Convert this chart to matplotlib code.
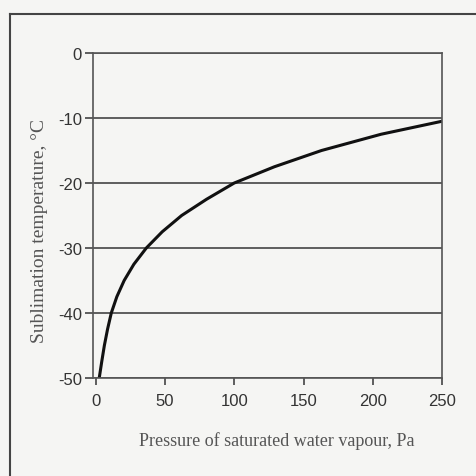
import matplotlib
matplotlib.use("Agg")
import matplotlib.pyplot as plt
from matplotlib.lines import Line2D

# Data (saturated vapour pressure over ice)
temperature_c = [-50, -47.5, -45, -42.5, -40, -37.5, -35, -32.5, -30, -27.5,
                 -25, -22.5, -20, -17.5, -15, -12.5, -10.5]
pressure_pa = [2.5, 4.3, 6.2, 8.5, 11.2, 15.2, 20.5, 27.5, 36.5, 48.0,
               62.0, 80.0, 100.0, 129.0, 163.0, 206.0, 250.0]
x_ticks = [0, 50, 100, 150, 200, 250]
y_ticks = [0, -10, -20, -30, -40, -50]

bg = "#f5f5f3"
fig = plt.figure(figsize=(4.76, 4.77), dpi=100, facecolor=bg)
ax = fig.add_axes([93/476, 1-379/477, (442-93)/476, (379-54)/477])
ax.set_facecolor(bg)

ax.plot(pressure_pa, temperature_c, color="#111111", lw=2.2,
        solid_capstyle="round", solid_joinstyle="round")

ax.set_xlim(-2, 250)
ax.set_ylim(-50, 0)
ax.set_xticks(x_ticks)
ax.set_yticks(y_ticks)
ax.set_xticklabels([str(v) for v in x_ticks], fontsize=12, color="#333333",
                   family="Liberation Sans")
ax.set_yticklabels([str(v) for v in y_ticks], fontsize=12, color="#333333",
                   family="Liberation Sans")
ax.tick_params(axis="x", direction="out", length=5, width=1.2, color="#444444", pad=6)
ax.tick_params(axis="y", direction="out", length=6, width=1.2, color="#444444", pad=2)
ax.grid(axis="y", color="#444444", lw=1.2)
ax.set_axisbelow(True)
for s in ax.spines.values():
    s.set_color("#555555")
    s.set_linewidth(1.2)

fig.text(277/476, 1-441/477, "Pressure of saturated water vapour, Pa", fontsize=13,
         family="Liberation Serif", color="#555555", ha="center", va="center")
fig.text(40/476, 1-231/477, "Sublimation temperature, °C", fontsize=14,
         family="Liberation Serif", color="#555555", ha="center", va="center",
         rotation=90)

# outer frame of the scanned figure
fig.add_artist(Line2D([10/476, 10/476], [0, 1-15/477], transform=fig.transFigure,
                      color="#444444", lw=1.5))
fig.add_artist(Line2D([10/476, 1], [1-15/477, 1-15/477], transform=fig.transFigure,
                      color="#444444", lw=1.5))

fig.savefig("out.png", dpi=100, facecolor=bg)
